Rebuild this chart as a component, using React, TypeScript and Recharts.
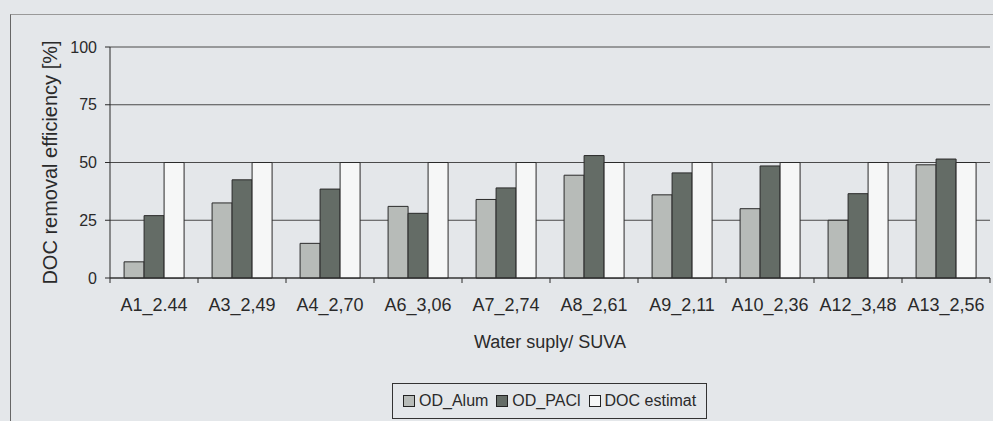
import { Bar, BarChart, CartesianGrid, Legend, XAxis, YAxis } from "recharts";

const SUPPLIES = [
  "A1_2.44",
  "A3_2,49",
  "A4_2,70",
  "A6_3,06",
  "A7_2,74",
  "A8_2,61",
  "A9_2,11",
  "A10_2,36",
  "A12_3,48",
  "A13_2,56",
];
const OD_ALUM = [7, 32.5, 15, 31, 34, 44.5, 36, 30, 25, 49];
const OD_PACL = [27, 42.5, 38.5, 28, 39, 53, 45.5, 48.5, 36.5, 51.5];
const DOC_ESTIMAT = [50, 50, 50, 50, 50, 50, 50, 50, 50, 50];
const Y_TICKS = [0, 25, 50, 75, 100];
const SERIES_NAMES = ["OD_Alum", "OD_PACl", "DOC estimat"];

const data = SUPPLIES.map((name, i) => ({
  name,
  alum: OD_ALUM[i],
  pacl: OD_PACL[i],
  doc: DOC_ESTIMAT[i],
}));

const FONT = '"Liberation Sans", Arial, sans-serif';
const INK = "#2a2a2a";

function SupplyTick({ x, y, payload, index, visibleTicksCount }: any) {
  const half = payload?.offset || 44;
  const last = index === visibleTicksCount - 1;
  return (
    <g>
      <line x1={x - half} x2={x - half} y1={y} y2={y + 5} stroke={INK} />
      {last && <line x1={x + half} x2={x + half} y1={y} y2={y + 5} stroke={INK} />}
      <text x={x} y={y} dy={33} textAnchor="middle" fontSize={18} fill={INK} fontFamily={FONT}>
        {payload.value}
      </text>
    </g>
  );
}

function LegendBox({ payload }: any) {
  // keep the series order, not the alphabetical one
  const items = [...(payload || [])].sort(
    (a: any, b: any) => SERIES_NAMES.indexOf(a.value) - SERIES_NAMES.indexOf(b.value)
  );
  return (
    <div
      style={{
        display: "inline-flex",
        alignItems: "center",
        gap: 8,
        border: "1px solid #333",
        padding: "8px 10px",
        fontFamily: FONT,
        fontSize: 16,
        color: INK,
        lineHeight: "18px",
      }}
    >
      {items.map((entry: any) => (
        <span key={entry.value} style={{ display: "inline-flex", alignItems: "center", gap: 4 }}>
          <span
            style={{
              width: 10,
              height: 10,
              background: entry.color,
              border: "1px solid #222",
            }}
          />
          {entry.value}
        </span>
      ))}
    </div>
  );
}

export default function App() {
  return (
    <div
      style={{
        position: "absolute",
        left: 0,
        top: 0,
        width: 993,
        height: 421,
        overflow: "hidden",
        background: "#e4e7ea",
        fontFamily: FONT,
      }}
    >
      <div
        style={{
          position: "absolute",
          left: 10,
          top: 14,
          right: -2,
          bottom: -2,
          borderLeft: "1px solid #666",
          borderTop: "1px solid #999",
        }}
      />
      <BarChart
        width={993}
        height={421}
        data={data}
        margin={{ top: 47, right: 3, left: 0, bottom: 35 }}
        barCategoryGap="16%"
        barGap={0}
      >
        <CartesianGrid vertical={false} stroke="#4a4a4a" />
        <XAxis
          dataKey="name"
          height={72}
          tickLine={false}
          tickSize={0}
          tickMargin={0}
          axisLine={{ stroke: INK }}
          tick={<SupplyTick />}
          interval={0}
          label={{
            value: "Water suply/ SUVA",
            position: "insideBottom",
            offset: 2,
            fontSize: 18,
            fill: INK,
            fontFamily: FONT,
          }}
        />
        <YAxis
          width={110}
          domain={[0, 100]}
          ticks={Y_TICKS}
          tickSize={5}
          tickMargin={8}
          axisLine={{ stroke: INK }}
          tickLine={{ stroke: INK }}
          tick={{ fontSize: 16, fill: INK, fontFamily: FONT }}
          label={{
            value: "DOC removal efficiency [%]",
            angle: -90,
            position: "insideLeft",
            offset: 50,
            fontSize: 20,
            fill: INK,
            fontFamily: FONT,
            style: { textAnchor: "middle" },
          }}
        />
        <Legend
          verticalAlign="bottom"
          content={<LegendBox />}
          wrapperStyle={{ left: 392, top: 383, width: "auto" }}
        />
        <Bar dataKey="alum" name="OD_Alum" fill="#b7bbb8" stroke={INK} isAnimationActive={false} />
        <Bar dataKey="pacl" name="OD_PACl" fill="#646c66" stroke={INK} isAnimationActive={false} />
        <Bar dataKey="doc" name="DOC estimat" fill="#f6f7f7" stroke={INK} isAnimationActive={false} />
      </BarChart>
    </div>
  );
}
